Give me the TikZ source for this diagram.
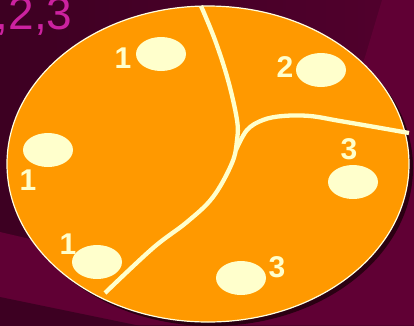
\documentclass[tikz,border=0pt]{standalone}
\usepackage{fontspec}
\setmainfont{Liberation Sans}
\usetikzlibrary{shapes.geometric}
\definecolor{bgdark}{HTML}{3D0022}
\definecolor{bgmid}{HTML}{52002D}
\definecolor{bgmag}{HTML}{600034}
\definecolor{shadowc}{HTML}{2A0012}
\definecolor{orangec}{HTML}{FF9900}
\definecolor{creamc}{HTML}{FFFFCC}
\definecolor{titlec}{HTML}{CC22A0}
\begin{document}
\begin{tikzpicture}[x=1pt,y=-1pt,
  spot/.style={ellipse, fill=creamc, minimum width=50pt, minimum height=34pt, inner sep=0pt},
  num/.style={text=creamc, font=\fontsize{30}{30}\selectfont\bfseries, inner sep=0pt},
  divider/.style={draw=creamc, line width=4.3pt}]
\useasboundingbox (0,0) rectangle (414,325);
\clip (0,0) rectangle (414,325);
% background
\shade[left color=bgdark, right color=bgmid] (0,0) rectangle (414,325);
\fill[bgmag] (382,0) -- (414,0) -- (414,325) -- (0,325) -- (0,232) -- (43,242) -- (200,300) -- (330,150) -- (365,57) -- cycle;
\fill[bgdark] (0,297) -- (160,330) -- (0,330) -- cycle;
% title
\node[anchor=base west, text=titlec, font=\fontsize{46}{46}\selectfont, inner sep=0pt] (title) at (-30,29) {1,2,3};
% main disc
\fill[shadowc] (212,168) ellipse [x radius=201, y radius=158];
\fill[orangec] (208,164) ellipse [x radius=201, y radius=158];
\draw[creamc!60!white, line width=1.2pt] (208,164) ellipse [x radius=201, y radius=158];
% dividing lines
\draw[divider] plot[smooth, tension=0.6] coordinates {(201,6) (215,40) (228,80) (237,120) (237,140) (232,163) (213,197) (187,222) (153,248) (105,293)};
\draw[divider] plot[smooth, tension=0.6] coordinates {(236,150) (247,130) (263,120) (283,116) (310,116) (340,121) (375,127) (409,133)};
% spots
\node[spot] (s1) at (161,54) {};
\node[spot] (s2) at (321,70) {};
\node[spot] (s3) at (48,150) {};
\node[spot] (s4) at (97,262) {};
\node[spot] (s5) at (241,278) {};
\node[spot] (s6) at (353,182) {};
% labels
\node[num] (l1) at (123,58) {1};
\node[num] (l2) at (285,67) {2};
\node[num] (l3) at (28,180) {1};
\node[num] (l4) at (68,244) {1};
\node[num] (l5) at (277,267) {3};
\node[num] (l6) at (349,149) {3};
\end{tikzpicture}
\end{document}
